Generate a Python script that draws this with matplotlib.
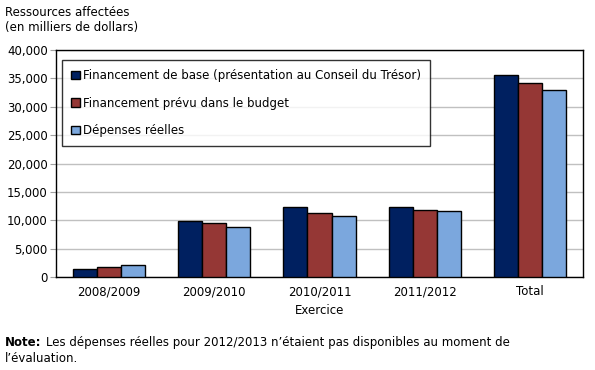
import numpy as np
import matplotlib.pyplot as plt

categories = ['2008/2009', '2009/2010', '2010/2011', '2011/2012', 'Total']
base = [1360, 9810, 12300, 12390, 35590]
budget = [1710, 9460, 11220, 11800, 34180]
actual = [2060, 8750, 10690, 11630, 32950]
labels = ['Financement de base (présentation au Conseil du Trésor)',
          'Financement prévu dans le budget',
          'Dépenses réelles']
colors = ['#002060', '#953735', '#7BA7DD']

plt.rcParams['font.family'] = 'DejaVu Sans'
plt.rcParams['font.size'] = 8.5

fig = plt.figure(figsize=(5.95, 3.7), dpi=100)
ax = fig.add_axes([56 / 595, 1 - 277 / 370, 527 / 595, 227 / 370])

x = np.arange(len(categories))
w = 0.228
for i, (vals, lab, c) in enumerate(zip([base, budget, actual], labels, colors)):
    ax.bar(x + (i - 1) * w, vals, w, color=c, edgecolor='black', linewidth=1, label=lab, zorder=3)

ax.set_xlim(-0.5, len(categories) - 0.5)
ax.set_ylim(0, 40000)
ax.set_yticks(range(0, 40001, 5000))
ax.set_yticklabels([f'{v:,}' for v in range(0, 40001, 5000)])
ax.set_xticks(x)
ax.set_xticklabels(categories)
ax.tick_params(axis='x', length=0, pad=6)
ax.tick_params(axis='y', length=4, color='#a0a0a0', pad=2)
ax.grid(axis='y', color='#c0c0c0', linewidth=1, zorder=0)
for s in ax.spines.values():
    s.set_color('black')
    s.set_linewidth(1)
ax.set_xlabel('Exercice', labelpad=4)

leg = ax.legend(loc='upper left', bbox_to_anchor=(0.011, 0.956), frameon=True, fancybox=False,
                edgecolor='black', handlelength=0.7, handleheight=0.7, handletextpad=0.3,
                labelspacing=1.2, borderpad=0.8, borderaxespad=0)
leg.get_frame().set_linewidth(1)

fig.text(5 / 595, 1 - 6 / 370, 'Ressources affectées\n(en milliers de dollars)', ha='left', va='top',
         linespacing=1.15)

# note: bold lead-in, then the rest of the sentence right after it
note_b = fig.text(5 / 595, 1 - 336 / 370, 'Note:', ha='left', va='top', fontweight='bold')
fig.canvas.draw()
bb = note_b.get_window_extent()
fig.text((bb.x1 + 4) / 595, 1 - 336 / 370,
         'Les dépenses réelles pour 2012/2013 n’étaient pas disponibles au moment de',
         ha='left', va='top')
fig.text(5 / 595, 1 - 352 / 370, 'l’évaluation.', ha='left', va='top')

fig.savefig('out.png', dpi=100)
